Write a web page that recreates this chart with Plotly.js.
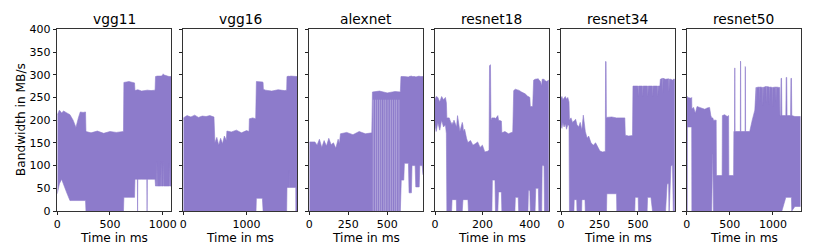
<!DOCTYPE html>
<html>
<head>
<meta charset="utf-8">
<script src="https://cdn.plot.ly/plotly-3.0.1.min.js"></script>
<style>
  html, body { margin: 0; padding: 0; background: #ffffff; }
  #chart { width: 831px; height: 246px; }
</style>
</head>
<body>
<div id="chart"></div>
<script>
// ---------- DATA (envelope of the bandwidth trace, MB/s vs time in ms) ----------
const models = ["vgg11", "vgg16", "alexnet", "resnet18", "resnet34", "resnet50"];
const xLabel = "Time in ms";
const yLabel = "Bandwidth in MB/s";

const vgg11_t  = [0,20,41,60,90,120,150,177,200,218,245,268, 272,320,380,440,500,560,628, 632,680,733, 737,760,762,764,800,850,852,854,890,928, 932,944,946,948,983,985,987,1003,1005,1007,1060,1062,1064,1080];
const vgg11_hi = [212,222,216,220,216,212,200,184,205,218,217,218, 175,172,176,171,175,173,175, 283,285,282, 265,267,267,267,264,266,266,266,265,266, 296,297,297,297,297,297,297,300,302,300,296,296,296,296];
const vgg11_lo = [38,60,70,58,40,23,23,23,23,23,23,23, 0,0,0,0,0,0,0, 30,30,30, 70,70,0,70,70,70,0,70,70,70, 55,55,110,55,55,108,55,55,110,55,55,105,55,55];

const vgg16_t  = [0,60,120,180,240,300,360,420,485, 500,530,560,590,620,650,680, 690,760,840,920,1000,1040, 1045,1100,1145, 1150,1156,1251,1262, 1266,1300,1400,1500,1600,1635, 1640,1677,1679,1681,1700,1779,1780,1800];
const vgg16_hi = [205,210,207,211,206,209,208,210,207, 150,162,145,160,148,165,155, 176,174,178,172,177,175, 203,205,203, 285,285,284,283, 268,266,264,267,265,266, 296,297,295,296,297,296,296,296];
const vgg16_lo = [0,0,0,0,0,0,0,0,0, 0,0,0,0,0,0,0, 0,0,0,0,0,0, 0,0,0, 0,28,28,0, 0,0,0,0,0,0, 52,52,90,52,52,52,0,0];

const alexnet_t  = [0,36, 50,65,80,95,110,125,140,155,170,185,193, 200,240,280,320,360,401, 405,450,500,550,584, 588,590,606,610,636,640,655,659,679,683,705,709,724,730];
const alexnet_hi = [152,152, 145,158,140,155,143,160,146,150,138,158,148, 170,173,168,175,170,172, 262,264,260,263,262, 296,296,297,296,295,296,297,296,296,295,297,296,296,296];
const alexnet_lo = [0,0, 0,0,0,0,0,0,0,0,0,0,0, 0,0,0,0,0,0, 0,0,0,0,0, 0,68,68,105,105,40,40,100,100,53,53,100,100,80];
const alexnet_streaks = [410,425,437,450,462,478,490,505,520,533,548,560,575];

const resnet18_t  = [0,5,12,20,28,36,44,48, 50,60,70,72,74,76,80,90,91,95,100,105,115,118,120,125,133,139,141,150,160,170,180,190,200,210,225, 228,230,234,236, 240,242,253,255,265,268,280,282,295,310,328, 332,337,339,351,353,365,380,392,394,400, 402,412, 416,422,425,436,438,445,450,452,460,462,470,480];
const resnet18_hi = [245,252,250,240,252,245,250,238, 205,205,190,195,190,192,200,185,185,210,190,175,195,188,175,180,160,150,152,155,145,148,152,140,145,130,132, 135,320,322,200, 205,205,205,203,210,200,198,172,175,170,174, 265,268,268,266,266,262,258,252,252,250, 230,230, 288,290,290,291,289,285,275,290,290,288,285,288];
const resnet18_lo = [190,175,195,178,200,185,190,170, 0,0,0,25,25,25,25,25,0,0,0,0,0,25,25,25,25,25,0,0,0,0,0,0,0,0,0, 0,0,0,0, 0,68,68,0,0,42,42,0,0,0,0, 0,0,30,30,0,0,0,0,45,45, 0,0, 0,0,50,50,0,0,0,100,100,0,0,0];

const resnet34_t  = [0,6,12,20,28,36,44,52, 55,65,75,84,86,95,102,104,115,125,134,136,145,156,158,170,180,195,210,225,240,253,270,286, 288,290,293,295, 296,298,330,361,363,380,415, 418,440,465, 468,480,482,500,502,504,530,532,534,560,563,565,567,585,595,597,599,628,630,632,643, 646,660,662,664,680,690,700,702,704,715,725,730,740];
const resnet34_hi = [248,252,245,250,252,246,250,240, 200,205,195,198,198,202,190,190,185,195,180,180,211,175,175,160,165,150,145,150,140,132,130,131, 131,329,329,206, 206,206,207,205,205,206,205, 167,165,166, 275,275,275,275,252,275,275,252,275,275,275,252,275,275,275,252,275,275,252,275,275, 290,292,260,292,290,290,291,262,290,290,288,290,290];
const resnet34_lo = [190,182,195,185,192,180,190,188, 0,0,0,0,25,25,25,0,0,0,0,25,25,25,0,0,0,0,0,0,0,0,0,0, 0,0,0,0, 0,38,38,38,0,0,0, 0,0,0, 0,0,30,30,30,0,0,0,0,0,30,30,30,30,0,0,0,0,0,0,0, 0,0,0,0,0,60,60,0,0,100,100,0,0];

const resnet50_t  = [0,6,8,55,58,60,80,100,120,150,180,210,240,265,280,290,300,303,310,342,345,380,411,414,440,470,486,489,544,547,555,557,559,561,622,624,626,628,677,679,681,683,731, 760,790, 805,808,811, 843,846,849, 881,884,887, 919,922,925, 957,960,963, 995,998,1001, 1033,1036,1039, 1070,1078, 1082,1090,1094,1100,1104,1150,1154,1160,1164,1205,1209,1215,1219,1255,1320];
const resnet50_hi = [250,252,250,248,250,225,228,215,230,228,226,224,227,228,210,205,205,205,200,200,78,78,78,210,212,208,210,78,78,175,175,315,314,175,175,330,328,175,175,318,316,175,175, 200,222, 272,235,272, 273,240,273, 272,232,272, 274,238,274, 273,235,273, 272,230,272, 273,240,273, 272,272, 210,210,292,292,210,210,294,294,210,210,292,292,210,208,208];
const resnet50_lo = [0,0,185,185,185,0,0,0,0,0,0,0,0,0,0,0,125,125,0,0,0,0,0,0,0,0,0,0,0,0,0,0,0,0,0,0,0,0,0,0,0,0,0, 0,0, 0,0,0, 0,0,0, 0,0,0, 0,0,0, 0,0,0, 0,0,0, 0,0,0, 0,0, 0,0,0,0,0,30,30,30,30,30,30,30,0,10,10];

const xRanges = [[0,1080],[0,1800],[0,730],[0,480],[0,740],[0,1320]];
const xDticks = [500, 1000, 250, 200, 250, 500];
const yTicks = [0,50,100,150,200,250,300,350,400];

// ---------- BUILD ----------
const series = {
  vgg11: [vgg11_t, vgg11_hi, vgg11_lo],
  vgg16: [vgg16_t, vgg16_hi, vgg16_lo],
  alexnet: [alexnet_t, alexnet_hi, alexnet_lo],
  resnet18: [resnet18_t, resnet18_hi, resnet18_lo],
  resnet34: [resnet34_t, resnet34_hi, resnet34_lo],
  resnet50: [resnet50_t, resnet50_hi, resnet50_lo]
};

const W = 831, H = 246;
const lefts = [57.3, 183.3, 309.3, 435, 561, 686.7];
const pw = 113.8;
const yBot = 211, yTop = 29.3;
const FILL = '#8d7bcb';
const FONT = 'DejaVu Sans, sans-serif';
const TICKSZ = 11, LABSZ = 12.2, TITSZ = 13.8;

const traces = [];
const layout = {
  width: W, height: H,
  margin: {l: 0, r: 0, t: 0, b: 0},
  paper_bgcolor: '#ffffff', plot_bgcolor: '#ffffff',
  showlegend: false,
  font: {family: FONT, size: TICKSZ, color: '#000'},
  annotations: []
};

models.forEach((m, i) => {
  const [t, hi, lo] = series[m];
  const xs = t.concat(t.slice().reverse());
  const ys = hi.concat(lo.slice().reverse());
  const sfx = i === 0 ? '' : String(i + 1);
  traces.push({
    type: 'scatter', mode: 'lines', x: xs, y: ys,
    fill: 'toself', fillcolor: FILL,
    line: {width: 0.6, color: FILL},
    xaxis: 'x' + sfx, yaxis: 'y' + sfx, hoverinfo: 'skip'
  });
  const x0 = lefts[i] / W, x1 = (lefts[i] + pw) / W;
  layout['xaxis' + sfx] = {
    domain: [x0, x1], range: xRanges[i], anchor: 'y' + sfx,
    dtick: xDticks[i], tick0: 0, ticks: 'outside', ticklen: 3, tickwidth: 1, tickcolor: '#222',
    showline: true, mirror: true, linecolor: '#333', linewidth: 1,
    showgrid: false, zeroline: false, automargin: false,
    tickfont: {family: FONT, size: TICKSZ, color: '#000'}
  };
  layout['yaxis' + sfx] = {
    domain: [1 - yBot / H, 1 - yTop / H], range: [0, 400], anchor: 'x' + sfx,
    tickvals: yTicks, ticks: 'outside', ticklen: 3.5, tickwidth: 1, tickcolor: '#222',
    showticklabels: i === 0,
    showline: true, mirror: true, linecolor: '#333', linewidth: 1,
    showgrid: false, zeroline: false, automargin: false,
    tickfont: {family: FONT, size: TICKSZ, color: '#000'}
  };
  // subplot title
  layout.annotations.push({
    text: m, xref: 'paper', yref: 'paper', borderpad: 0,
    x: (x0 + x1) / 2, y: 1 - 19 / H, xanchor: 'center', yanchor: 'middle',
    showarrow: false, font: {family: FONT, size: TITSZ, color: '#000'}
  });
  // x axis title
  layout.annotations.push({
    text: xLabel, xref: 'paper', yref: 'paper', borderpad: 0,
    x: (x0 + x1) / 2, y: 1 - 237.5 / H, xanchor: 'center', yanchor: 'middle',
    showarrow: false, font: {family: FONT, size: LABSZ, color: '#000'}
  });
});

// y axis title
layout.annotations.push({
  text: yLabel, xref: 'paper', yref: 'paper', textangle: -90, borderpad: 0,
  x: 21 / W, y: 1 - ((yTop + yBot) / 2) / H, xanchor: 'center', yanchor: 'middle',
  showarrow: false, font: {family: FONT, size: LABSZ, color: '#000'}
});

// lighter streaks inside the alexnet band
traces.push({
  type: 'scatter', mode: 'lines',
  x: alexnet_streaks.flatMap(s => [s, s, null]),
  y: alexnet_streaks.flatMap(s => [0, 245, null]),
  line: {width: 1, color: 'rgba(255,255,255,0.3)'},
  xaxis: 'x3', yaxis: 'y3', hoverinfo: 'skip'
});

Plotly.newPlot('chart', traces, layout, {staticPlot: true, displayModeBar: false});
</script>
</body>
</html>
